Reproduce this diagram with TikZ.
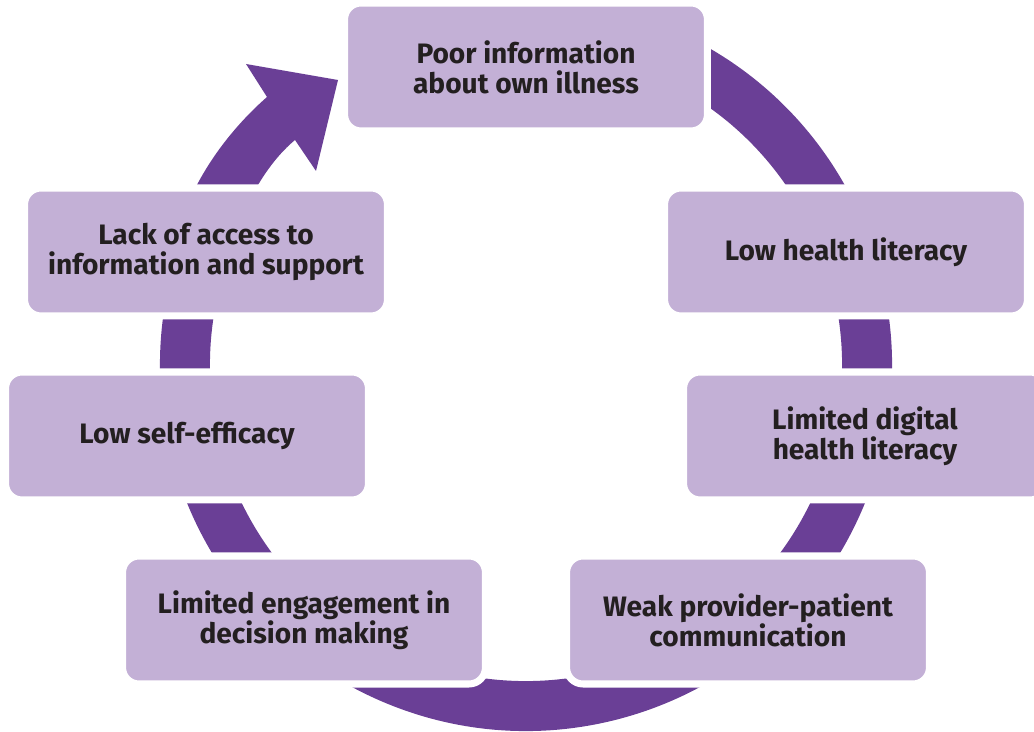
\documentclass[tikz,border=0pt]{standalone}
\usepackage{fontspec}
\setmainfont{Fira Sans}
\usetikzlibrary{positioning}

\definecolor{boxlilac}{HTML}{C3B0D6}
\definecolor{ringpurple}{HTML}{6A3F96}
\definecolor{inkgrey}{HTML}{231F20}

\tikzstyle{factor} = [align=center,fill=boxlilac,draw=white,line width=4pt,rounded corners=0.33cm,minimum width=7.26cm,minimum height=2.56cm,text=inkgrey,font=\fontsize{16}{17}\selectfont\bfseries]
\tikzstyle{ring} = [draw=ringpurple,line width=1cm]

\begin{document}
\begin{tikzpicture}[x=0.02cm,y=-0.02cm]
	\useasboundingbox (0,0) rectangle (1034,732);
	% the cycle behind the boxes
	\coordinate (hub) at (526,365);
	\draw [ring] (hub) ++(-65:341) arc[start angle=-65,end angle=200,radius=341];
	\fill [ringpurple] (172,260) .. controls (180,200) and (218,140) .. (267,97) -- (246,64) -- (338,80) -- (316,171) -- (295,140) .. controls (265,165) and (240,210) .. (228,260) -- cycle;
	% factors
	\node (poorinfo) [factor] at (526,67) {Poor information\\about own illness};
	\node (healthlit) [factor] at (846,252) {Low health literacy};
	\node (digital) [factor] at (865,436) {Limited digital\\health literacy};
	\node (provider) [factor] at (748,620) {Weak provider-patient\\communication};
	\node (engage) [factor] at (304,620) {Limited engagement in\\decision making};
	\node (efficacy) [factor] at (187,436) {Low self-efficacy};
	\node (access) [factor] at (206,252) {Lack of access to\\information and support};
\end{tikzpicture}
\end{document}
